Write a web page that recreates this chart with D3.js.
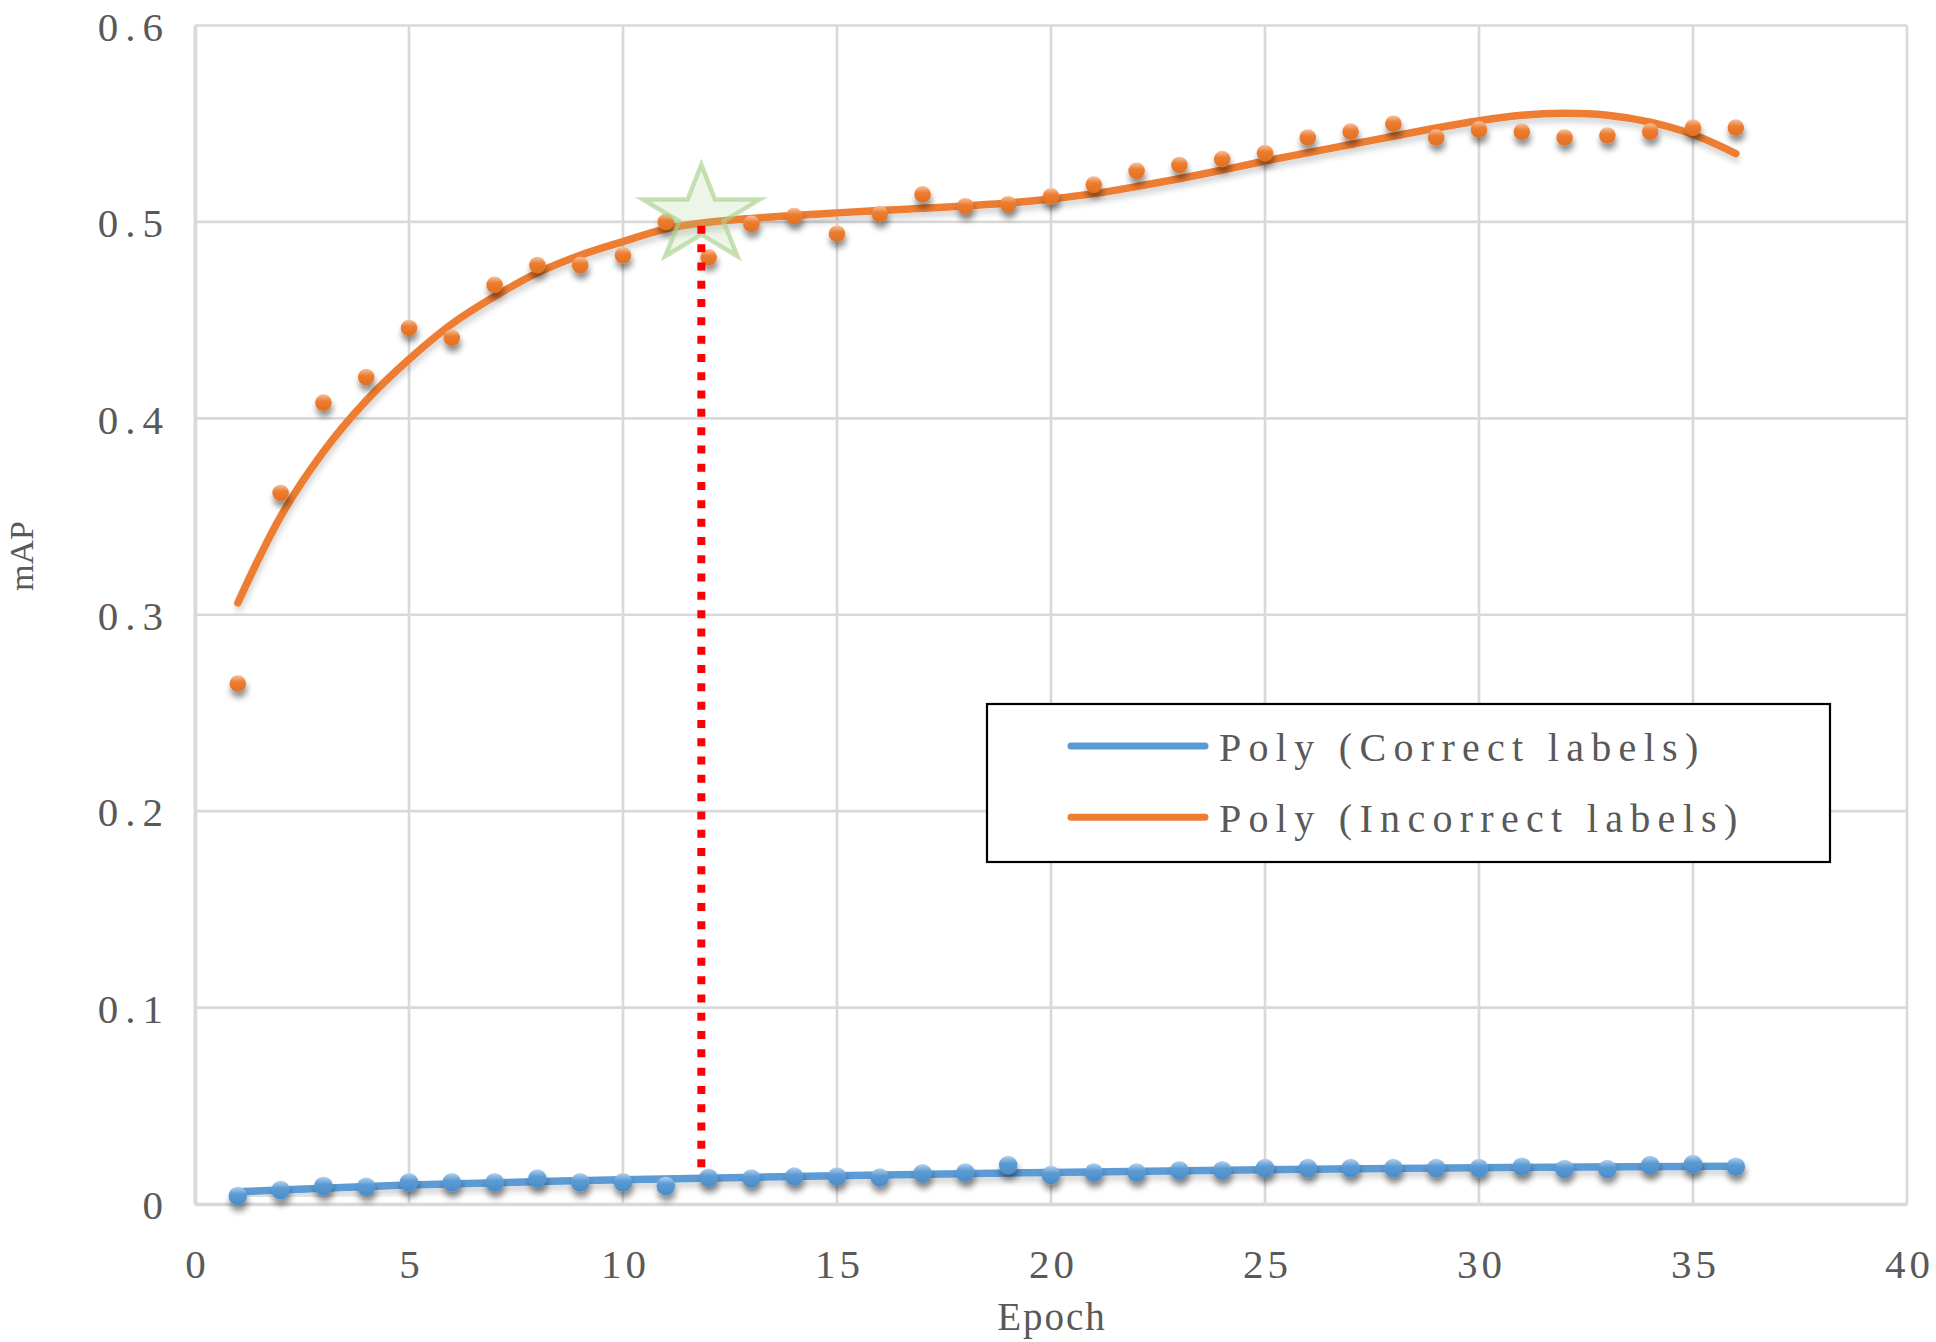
<!DOCTYPE html>
<html>
<head>
<meta charset="utf-8">
<script src="https://cdn.jsdelivr.net/npm/d3@7/dist/d3.min.js"></script>
<style>
  body { margin: 0; background: #fff; }
</style>
</head>
<body>
<div id="chart"></div>
<script>
// epochs and mAP values
const epochs = [1,2,3,4,5,6,7,8,9,10,11,12,13,14,15,16,17,18,19,20,21,22,23,24,25,26,27,28,29,30,31,32,33,34,35,36];
const correctMAP = [0.0041,0.0071,0.0092,0.0088,0.011,0.011,0.011,0.013,0.011,0.011,0.0092,0.0134,
  0.013,0.014,0.014,0.0135,0.0156,0.016,0.0198,0.0148,0.016,0.016,0.0171,0.0171,
  0.0183,0.0183,0.0183,0.0183,0.0183,0.0183,0.019,0.0178,0.0178,0.0198,0.0203,0.019];
const incorrectMAP = [0.265,0.362,0.408,0.421,0.446,0.441,0.468,0.478,0.478,0.483,0.500,0.482,
  0.499,0.503,0.494,0.504,0.514,0.508,0.509,0.513,0.519,0.526,0.529,0.532,
  0.535,0.543,0.546,0.550,0.543,0.547,0.546,0.543,0.544,0.546,0.548,0.548];
// polynomial trend lines, read at sample epochs
const incorrectPoly = [0.306,0.350,0.383,0.409,0.430,0.448,0.462,0.474,0.483,0.490,0.4965,0.4998,
  0.5018,0.5033,0.5046,0.5058,0.5069,0.5081,0.5096,0.5117,0.5144,0.518,0.522,0.5264,
  0.531,0.5352,0.5394,0.5436,0.5478,0.5515,0.5543,0.5553,0.5543,0.5508,0.5445,0.5348];
const correctPolyEpochs = [1,5,10,15,20,25,30,36];
const correctPoly = [0.0062,0.0097,0.0123,0.0144,0.0161,0.0175,0.0185,0.0192];
// highlighted best epoch (star + red dotted drop line)
const bestEpoch = 11.83;
const bestMAP = 0.5034;
const dropLine = [0.498, 0.017];

const xTicks = [0,5,10,15,20,25,30,35,40];
const yTicks = [0,0.1,0.2,0.3,0.4,0.5,0.6];
const legendLabels = ["Poly (Correct labels)", "Poly (Incorrect labels)"];
const colors = ["#5b9bd5", "#ed7d31"];

const W = 1936, H = 1342;
const margin = {top: 25.5, right: 29, bottom: 138, left: 195};
const width = W - margin.left - margin.right;
const height = H - margin.top - margin.bottom;
const textCol = "#595959";
const font = "'Liberation Serif', 'DejaVu Serif', serif";

const svg = d3.select("#chart").append("svg")
  .attr("width", W).attr("height", H);

// defs: shadows and glossy marker gradients
const defs = svg.append("defs");
const sh = defs.append("filter").attr("id", "dotShadow")
  .attr("x", "-150%").attr("y", "-150%").attr("width", "400%").attr("height", "450%");
sh.append("feGaussianBlur").attr("in", "SourceAlpha").attr("stdDeviation", 3);
sh.append("feOffset").attr("dx", 1).attr("dy", 6).attr("result", "off");
sh.append("feComponentTransfer").append("feFuncA").attr("type", "linear").attr("slope", 0.45);
let mg = sh.append("feMerge");
mg.append("feMergeNode");
mg.append("feMergeNode").attr("in", "SourceGraphic");

const lsh = defs.append("filter").attr("id", "lineShadow")
  .attr("x", "-5%").attr("y", "-20%").attr("width", "110%").attr("height", "140%");
lsh.append("feGaussianBlur").attr("in", "SourceAlpha").attr("stdDeviation", 3);
lsh.append("feOffset").attr("dx", 1).attr("dy", 5);
lsh.append("feComponentTransfer").append("feFuncA").attr("type", "linear").attr("slope", 0.18);
mg = lsh.append("feMerge");
mg.append("feMergeNode");
mg.append("feMergeNode").attr("in", "SourceGraphic");

const gradStops = [
  ["gradBlue", "#b5d2ee", "#5b9bd5", "#4b8bc7"],
  ["gradOrange", "#f7c3a0", "#ed7d31", "#e06f20"]
];
gradStops.forEach(([id, light, mid, dark]) => {
  const g = defs.append("linearGradient").attr("id", id)
    .attr("x1", 0).attr("y1", 0).attr("x2", 0).attr("y2", 1);
  g.append("stop").attr("offset", "0%").attr("stop-color", light);
  g.append("stop").attr("offset", "40%").attr("stop-color", mid);
  g.append("stop").attr("offset", "100%").attr("stop-color", dark);
});

const g = svg.append("g").attr("transform", `translate(${margin.left},${margin.top})`);

const x = d3.scaleLinear().domain([0, 40]).range([0, width]);
const y = d3.scaleLinear().domain([0, 0.6]).range([height, 0]);

// grid
g.append("g").selectAll("line").data(yTicks).enter().append("line")
  .attr("x1", 0).attr("x2", width)
  .attr("y1", d => y(d)).attr("y2", d => y(d))
  .attr("stroke", "#d9d9d9").attr("stroke-width", 2.7);
g.append("g").selectAll("line").data(xTicks).enter().append("line")
  .attr("y1", 0).attr("y2", height)
  .attr("x1", d => x(d)).attr("x2", d => x(d))
  .attr("stroke", "#d9d9d9").attr("stroke-width", 2.7);

// axes
const yAxis = g.append("g")
  .call(d3.axisLeft(y).tickValues(yTicks).tickSize(0).tickPadding(25)
    .tickFormat(d => d === 0 ? "0" : d3.format(".1f")(d)));
const xAxis = g.append("g").attr("transform", `translate(0,${height})`)
  .call(d3.axisBottom(x).tickValues(xTicks).tickSize(0).tickFormat(d3.format("d")));
[yAxis, xAxis].forEach(a => {
  a.select(".domain").attr("stroke", "#d9d9d9").attr("stroke-width", 3.5);
  a.selectAll("text")
    .style("font-family", font).style("font-size", "41px")
    .attr("fill", textCol);
});
yAxis.selectAll("text").attr("dy", "0.36em").style("letter-spacing", "7px");
xAxis.selectAll("text").attr("dy", null).attr("y", 74).attr("dx", 2)
  .style("letter-spacing", "4px");

// axis titles
svg.append("text")
  .attr("x", margin.left + width / 2 + 1).attr("y", 1330)
  .attr("text-anchor", "middle")
  .style("font-family", font).style("font-size", "39px").style("letter-spacing", "2px")
  .attr("fill", textCol).text("Epoch");
svg.append("text")
  .attr("transform", "translate(33,556) rotate(-90)")
  .attr("text-anchor", "middle")
  .style("font-family", font).style("font-size", "34px")
  .attr("fill", textCol).text("mAP");

// trend lines
const line = d3.line().curve(d3.curveCatmullRom);
g.append("path")
  .attr("d", line(correctPolyEpochs.map((e, i) => [x(e), y(correctPoly[i])])))
  .attr("fill", "none").attr("stroke", colors[0]).attr("stroke-width", 7.5)
  .attr("stroke-linecap", "round").attr("filter", "url(#lineShadow)");
g.append("path")
  .attr("d", line(epochs.map((e, i) => [x(e), y(incorrectPoly[i])])))
  .attr("fill", "none").attr("stroke", colors[1]).attr("stroke-width", 7.5)
  .attr("stroke-linecap", "round").attr("filter", "url(#lineShadow)");

// scatter markers
g.append("g").selectAll("circle").data(epochs).enter().append("circle")
  .attr("cx", d => x(d)).attr("cy", (d, i) => y(correctMAP[i]))
  .attr("r", 9.3).attr("fill", "url(#gradBlue)").attr("filter", "url(#dotShadow)");
g.append("g").selectAll("circle").data(epochs).enter().append("circle")
  .attr("cx", d => x(d)).attr("cy", (d, i) => y(incorrectMAP[i]))
  .attr("r", 8.3).attr("fill", "url(#gradOrange)").attr("filter", "url(#dotShadow)");

// star marking the chosen epoch
const Ry = 50.7, Rx = Ry * 1.21, inner = 0.382;
const starPts = d3.range(10).map(k => {
  const a = -Math.PI / 2 + k * Math.PI / 5;
  const r = k % 2 === 0 ? 1 : inner;
  return [x(bestEpoch) + Math.cos(a) * r * Rx, y(bestMAP) + Math.sin(a) * r * Ry];
});
g.append("path")
  .attr("d", "M" + starPts.join("L") + "Z")
  .attr("fill", "#a9d18e").attr("fill-opacity", 0.22)
  .attr("stroke", "#a9d18e").attr("stroke-opacity", 0.65).attr("stroke-width", 4.5)
  .attr("stroke-linejoin", "miter");

// red dotted drop line
g.append("line")
  .attr("x1", x(bestEpoch)).attr("x2", x(bestEpoch))
  .attr("y1", y(dropLine[0])).attr("y2", y(dropLine[1]))
  .attr("stroke", "#ff0000").attr("stroke-width", 8)
  .attr("stroke-dasharray", "8 10.3");

// legend
const lg = svg.append("g");
lg.append("rect")
  .attr("x", 987).attr("y", 704).attr("width", 843).attr("height", 158)
  .attr("fill", "#fff").attr("stroke", "#000").attr("stroke-width", 2.2);
legendLabels.forEach((t, i) => {
  const ly = 746 + i * 71.3;
  lg.append("line")
    .attr("x1", 1071).attr("x2", 1205).attr("y1", ly).attr("y2", ly)
    .attr("stroke", colors[i]).attr("stroke-width", 7).attr("stroke-linecap", "round");
  lg.append("text")
    .attr("x", 1219).attr("y", ly + 15)
    .style("font-family", font).style("font-size", "40px").style("letter-spacing", "7.3px")
    .attr("fill", textCol).text(t);
});
</script>
</body>
</html>
